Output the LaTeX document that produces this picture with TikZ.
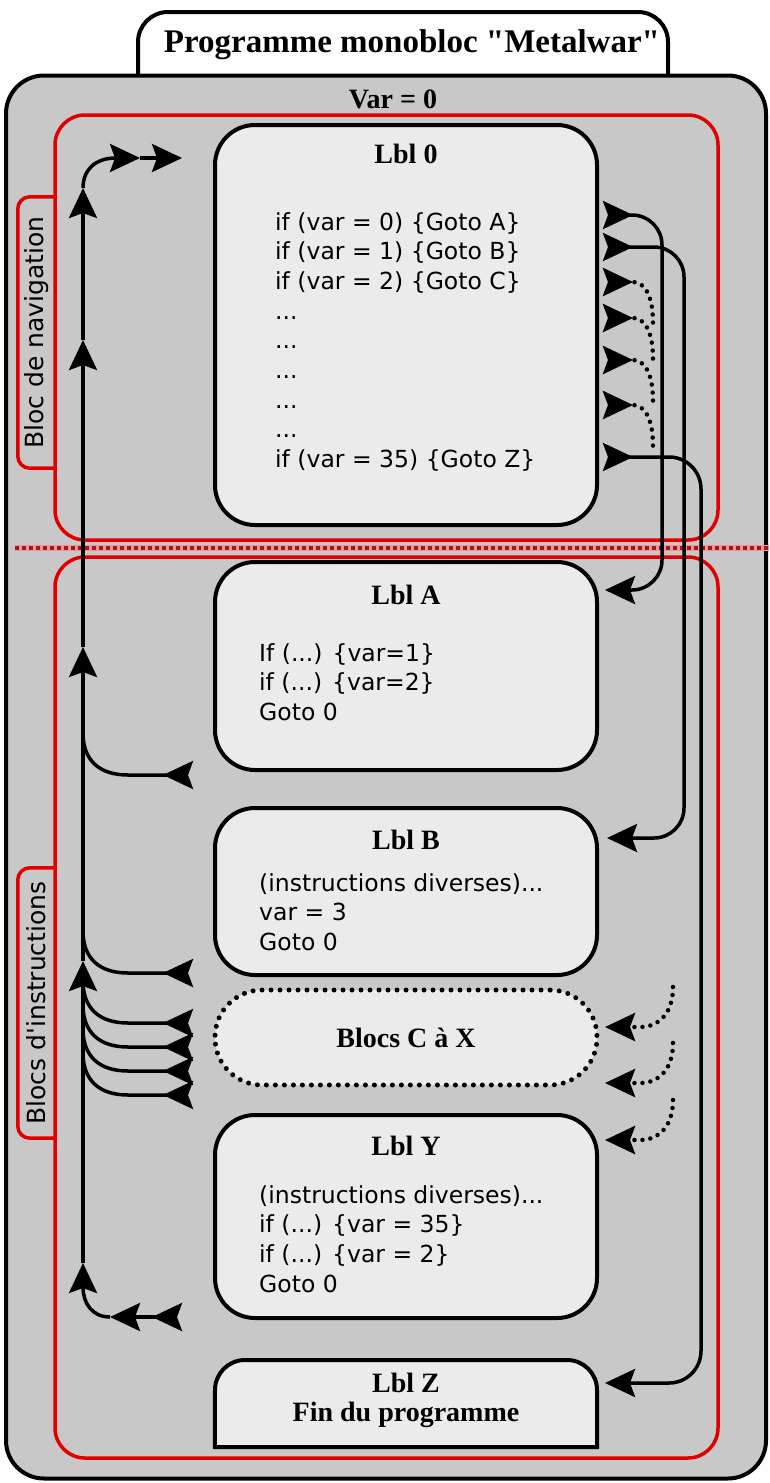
\documentclass[tikz,border=0pt]{standalone}
\usepackage{fontspec}
\setmainfont{Liberation Serif}[Ligatures=TeXOff]
\newfontfamily\codefont{DejaVu Sans}
\usetikzlibrary{arrows.meta,positioning}

\definecolor{bggrey}{RGB}{200,200,200}
\definecolor{boxgrey}{RGB}{235,235,235}
\definecolor{navred}{RGB}{225,0,0}
\definecolor{dotred}{RGB}{170,20,30}
\definecolor{dotpink}{RGB}{240,150,150}

\newcommand{\codesize}{\codefont\fontsize{23.5}{29.7}\selectfont}
\newcommand{\lblsize}{\bfseries\fontsize{28}{29}\selectfont}

\begin{document}
\begin{tikzpicture}[
  x=1pt, y=-1pt,
  every node/.style={inner sep=0pt},
  lblbox/.style={draw, line width=4pt, rounded corners=40pt, fill=boxgrey, minimum width=382pt},
  redbox/.style={draw=navred, line width=3.5pt, rounded corners=30pt, minimum width=663pt},
  redtab/.style={draw=navred, line width=3.5pt, rounded corners=12pt},
  tablabel/.style={font=\codefont\fontsize{25}{27}\selectfont, minimum width=37pt},
  lbltitle/.style={font=\lblsize, align=center},
  code/.style={font=\codesize, align=left, anchor=north west},
  goto/.style={line width=3.5pt},
  jumpin/.style={-{Stealth[length=30pt, width=28pt, inset=5pt]}},
  jumpout/.style={{Stealth[length=30pt, width=28pt, inset=5pt, reversed]}-},
  jumpboth/.style={{Stealth[length=30pt, width=28pt, inset=5pt, reversed]}-{Stealth[length=30pt, width=28pt, inset=5pt]}},
  hint/.style={line width=4.5pt, dash pattern=on 0pt off 8pt, line cap=round}
]
\useasboundingbox (0,0) rectangle (769,1483);

% program frame
\node[draw, line width=4pt, fill=white, rounded corners=30pt, minimum width=530pt, minimum height=110pt] (tab) at (403,67) {};
\node[draw, line width=4pt, fill=bggrey, rounded corners=38pt, minimum width=760pt, minimum height=1403pt] (prog) at (386,777) {};
\node[font=\bfseries\fontsize{33}{35}\selectfont] (progname) at (412,45) {Programme monobloc "Metalwar"};
\node[lbltitle] (varinit) at (393,99) {Var = 0};

% zones
\node[tablabel, minimum height=271pt] (navlabel) at (36.5,332.5) {\rotatebox{90}{Bloc de navigation}};
\node[tablabel, minimum height=270pt] (instlabel) at (36.5,1003) {\rotatebox{90}{Blocs d'instructions}};
\draw[redtab] (navlabel.north east) -- (navlabel.north west) -- (navlabel.south west) -- (navlabel.south east);
\draw[redtab] (instlabel.north east) -- (instlabel.north west) -- (instlabel.south west) -- (instlabel.south east);
\node[redbox, minimum height=425pt] (navzone) at (386.5,327.5) {};
\node[redbox, minimum height=901pt] (instzone) at (386.5,1007.5) {};
\coordinate (sepL) at (15,548);
\coordinate (sepR) at (769,548);
\draw[dotpink, line width=6pt] (sepL) -- (sepR);
\draw[dotred, line width=3.5pt, dash pattern=on 3.5pt off 3.5pt] (sepL) -- (sepR);

% labels
\node[lblbox, minimum height=400pt] (lbl0) at (406,325) {};
\node[lbltitle, below=21pt of lbl0.north] (lbl0title) {Lbl 0};
\node[code] (lbl0code) at (275,212) {if (var = 0) \{Goto A\}\\if (var = 1) \{Goto B\}\\if (var = 2) \{Goto C\}\\...\\...\\...\\...\\...\\if (var = 35) \{Goto Z\}};

\node[lblbox, minimum height=208pt] (lblA) at (406,666) {};
\node[lbltitle, below=25pt of lblA.north] (lblAtitle) {Lbl A};
\node[code] (lblAcode) at (259,643) {If (...) \{var=1\}\\if (...) \{var=2\}\\Goto 0};

\node[lblbox, minimum height=167pt] (lblB) at (406,891.5) {};
\node[lbltitle, below=24pt of lblB.north] (lblBtitle) {Lbl B};
\node[code] (lblBcode) at (259,873) {(instructions diverses)...\\var = 3\\Goto 0};

\node[lblbox, rounded corners=47pt, dash pattern=on 0pt off 9pt, line cap=round, line width=5pt, minimum height=95pt, font=\lblsize] (blocsCX) at (406,1037.5) {Blocs C à X};

\node[lblbox, minimum height=203pt] (lblY) at (406,1216.5) {};
\node[lbltitle, below=23pt of lblY.north] (lblYtitle) {Lbl Y};
\node[code] (lblYcode) at (259,1185) {(instructions diverses)...\\if (...) \{var = 35\}\\if (...) \{var = 2\}\\Goto 0};

\node[minimum width=382pt, minimum height=87pt] (lblZ) at (406,1403.5) {};
\draw[line width=4pt, fill=boxgrey] (lblZ.south west) -- (215,1390) .. controls (215,1373.4) and (228.4,1360) .. (245,1360) -- (567,1360) .. controls (583.6,1360) and (597,1373.4) .. (597,1390) -- (lblZ.south east) -- cycle;
\node[lbltitle] (lblZtext) at (406,1400) {Lbl Z\\Fin du programme};

% returns to Lbl 0
\coordinate (retY) at (182,1317);
\coordinate (retYmid) at (110,1317);
\coordinate (j1) at (83,1263);
\coordinate (j2) at (83,961);
\coordinate (j3) at (83,647);
\coordinate (j4) at (83,340);
\coordinate (j5) at (83,188);
\coordinate (entryMid) at (140,158);
\coordinate (entry0) at (182,158);
\draw[goto, jumpboth] (retY) -- (retYmid);
\draw[goto, jumpin] (retYmid) .. controls (92,1317) and (83,1303) .. (j1);
\draw[goto, jumpin] (j1) -- (j2);
\draw[goto, jumpin] (j2) -- (j3);
\draw[goto, jumpin] (j3) -- (j4);
\draw[goto, jumpin] (j4) -- (j5);
\draw[goto, jumpin] (j5) .. controls (83,170) and (95,158) .. (entryMid);
\draw[goto, jumpin] (entryMid) -- (entry0);
\foreach \yb/\nm in {775/A, 973/B, 1023/C, 1047/D, 1071/E, 1095/F} {
  \coordinate (ret\nm) at (193,\yb);
  \coordinate (join\nm) at (83,\yb-42);
  \draw[goto, jumpout] (ret\nm) -- +(-65,0) .. controls +(-28,0) and +(0,28) .. (join\nm);
}

% jumps from Lbl 0
\coordinate (outA) at (603,215);
\coordinate (laneA) at (662,400);
\coordinate (inA) at (605,590);
\coordinate (outB) at (603,247);
\coordinate (laneB) at (684,500);
\coordinate (inB) at (607,838);
\coordinate (outZ) at (603,457);
\coordinate (laneZ) at (701,900);
\coordinate (inZ) at (605,1383);
\draw[goto, rounded corners=30pt, jumpboth] (outA) -| (laneA) |- (inA);
\draw[goto, rounded corners=30pt, jumpboth] (outB) -| (laneB) |- (inB);
\draw[goto, rounded corners=32pt, jumpboth] (outZ) -| (laneZ) |- (inZ);
\foreach \yh in {282, 318, 360, 405}
  \draw[hint, jumpout] (603,\yh) -- (632,\yh) .. controls (648,\yh) and (653,\yh+20) .. (653,\yh+41);
\foreach \yh in {1027, 1083, 1140}
  \draw[hint, jumpin] (673,\yh-40) .. controls (673,\yh-15) and (660,\yh) .. (640,\yh) -- (605,\yh);
\end{tikzpicture}
\end{document}
